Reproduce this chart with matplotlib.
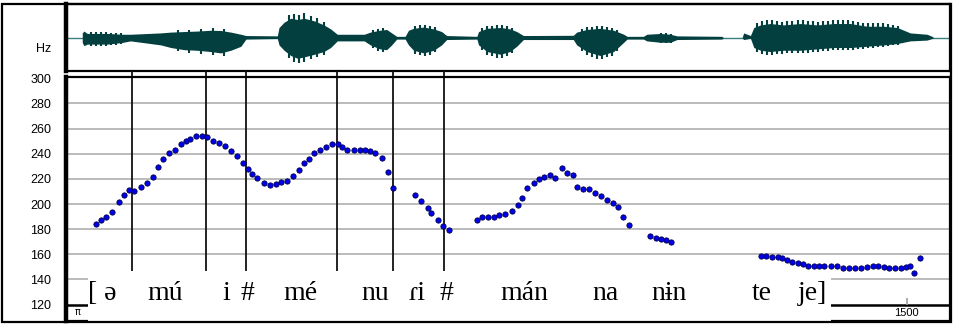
import numpy as np
import matplotlib.pyplot as plt
from matplotlib.patches import Rectangle

# F0 track (ms, Hz)
f0_t = [54, 62, 71, 82, 94, 104, 112, 121, 133, 144, 155, 165, 173, 183, 194, 205, 214, 221, 232, 243,
        251, 263, 273, 283, 294, 305, 315, 324, 332, 340,
        353, 364, 375, 384, 394, 405, 415, 425, 433, 443, 453, 464, 475, 485, 493, 502, 514, 525, 534, 543,
        552, 564, 574, 584,
        622, 634, 646, 652, 663, 673, 684,
        733, 743, 752, 763, 773, 784, 795, 806, 814, 823, 834, 844, 853, 863, 873, 884, 894, 905, 912, 923,
        933, 944, 955, 965, 975, 984, 994, 1004,
        1042, 1052, 1061, 1071, 1080,
        1240, 1249, 1260, 1270, 1278, 1287, 1296, 1305, 1314, 1324, 1334, 1343, 1353, 1364, 1376, 1387,
        1397, 1408, 1418, 1429, 1439, 1449, 1459, 1468, 1479, 1489, 1498, 1506, 1512, 1524]
f0_hz = [184.5, 187.7, 189.8, 193.3, 202.0, 206.8, 211.0, 210.2, 213.2, 216.8, 221.6, 229.3, 235.5, 240.5,
         242.9, 247.4, 249.8, 251.8, 254.0, 254.2, 253.0, 250.2, 248.2, 246.0, 242.0, 237.8, 232.7, 227.5,
         223.5, 220.6,
         216.8, 215.2, 215.6, 217.2, 218.4, 222.2, 226.9, 232.3, 235.5, 240.2, 242.9, 245.0, 247.4, 247.4,
         245.5, 242.9, 242.9, 242.9, 243.1, 241.8, 240.2, 236.7, 225.1, 212.4,
         207.0, 202.3, 196.9, 193.0, 187.2, 182.4, 179.2,
         187.7, 189.8, 189.8, 189.8, 190.9, 192.2, 194.3, 199.1, 204.9, 212.4, 216.6, 219.8, 221.6, 223.0,
         220.8, 228.5, 224.3, 223.2, 213.7, 212.1, 211.6, 208.4, 206.3, 203.1, 201.0, 197.3, 189.8, 183.7,
         174.4, 173.1, 172.0, 171.3, 169.9,
         158.5, 158.5, 158.0, 157.5, 156.7, 155.3, 154.3, 153.2, 152.2, 150.8, 150.8, 150.8, 150.8, 150.8,
         150.6, 149.5, 149.5, 149.5, 149.5, 150.0, 150.8, 150.8, 150.0, 149.5, 149.5, 149.5, 150.0, 151.1,
         145.2, 156.9]

# segment boundaries (ms)
bounds = [118, 250, 321, 484, 584, 675]

# transcription
syll = ["mú", "i", "#", "mé", "nu", "ɾi", "#", "mán", "na", "nɨn", "te", "je]"]
syll_t = [177, 286, 323, 418, 552, 627, 679, 817, 962, 1075, 1242, 1331]

yticks = [120, 140, 160, 180, 200, 220, 240, 260, 280, 300]

# waveform envelope (ms, amplitude above / below baseline)
wave_t = [29, 32, 38, 74, 100, 115, 169, 187, 211, 234, 258, 276, 294, 312, 321, 377, 380, 389, 401, 413,
          425, 443, 460, 472, 484, 532, 543, 560, 572, 581, 590, 605, 611, 620, 638, 656, 670, 679, 733,
          736, 751, 775, 792, 804, 816, 905, 911, 929, 953, 977, 995, 1001, 1030, 1036, 1060, 1078, 1090,
          1170, 1173, 1206, 1209, 1221, 1227, 1239, 1256, 1280, 1310, 1340, 1370, 1399, 1429, 1459, 1483,
          1506, 1536, 1545, 1548]
wave_top = [6, 8.3, 5.3, 5.3, 4.3, 4.3, 6, 7, 7.7, 8.3, 9.3, 9, 7, 4.3, 2.7, 2.3, 12.7, 19.3, 24.3, 22.7,
            24.3, 21, 16, 11, 4.3, 4.3, 7, 9.3, 10.3, 6, 1.7, 1.7, 9.3, 11.7, 13.3, 11, 7.7, 2.7, 1.7,
            7.7, 11.7, 12.7, 11, 7.7, 2.7, 3, 7, 10.3, 11.7, 9.3, 4.3, 1.7, 1.7, 4.3, 5.3, 4.3, 2.3,
            1.7, 0, 0, 6, 2.7, 12.7, 16, 17.7, 16, 17.7, 16, 17.7, 17.7, 14.3, 14.3, 12.7,
            6, 4.3, 1.7, 0]
wave_bot = [6, 10, 8, 8, 6, 4, 9, 12.3, 15, 15.7, 17.3, 19, 15.7, 10.7, 1.7, 1, 9, 15.7, 22.3, 25.7,
            24, 20.7, 17.3, 12.3, 4, 4, 9, 14, 15, 9, 1.7, 1.7, 9, 15.7, 19, 15.7, 9, 2.3, 1.7,
            9, 17.3, 20.7, 17.3, 10.7, 2.3, 2.3, 9, 17.3, 22.3, 17.3, 5.7, 1.7, 1.7, 4, 5.7, 5.7, 2.3,
            1.7, 0, 0, 2.3, 0.7, 12.3, 15.7, 17.3, 15.7, 15.7, 14, 12.3, 12.3, 10.7, 9, 7.3,
            4, 3, 1, 0]
pulses = [44, 53, 62, 71, 80, 89, 98,
          200, 220, 240, 262, 282,
          398, 407, 416, 425, 437, 448, 460,
          548, 557, 566,
          622, 631, 640, 649, 658,
          742, 751, 760, 769, 777, 786, 795,
          920, 929, 938, 947, 956, 965, 974, 983,
          1062, 1071, 1080,
          1233, 1242, 1251, 1260, 1269, 1278, 1287, 1296, 1305, 1314, 1323, 1332, 1341, 1350, 1359,
          1368, 1377, 1386, 1395, 1404, 1413, 1422, 1431, 1440, 1449, 1458, 1467, 1476, 1485]

W, H = 954, 325
T_MAX = 1577
Y0, Y1 = 107, 301
wave_col = '#033f3f'

fig = plt.figure(figsize=(W / 100, H / 100), dpi=100)
ax_w = fig.add_axes([66 / W, 1 - 71 / H, 884 / W, 67 / H])
ax_p = fig.add_axes([66 / W, 1 - 321 / H, 884 / W, 244 / H])

# waveform
ax_w.plot([0, T_MAX], [0, 0], color='#3a7f7f', lw=1, zorder=1)
wt = np.array(wave_t, float)
wtop = np.array(wave_top)
wbot = np.array(wave_bot)
ax_w.fill_between(wt, -0.8 * wbot, 0.8 * wtop, color=wave_col, lw=0, zorder=2)
ax_w.vlines(pulses, -np.interp(pulses, wt, wbot), np.interp(pulses, wt, wtop),
            color=wave_col, lw=1.5, zorder=2)
ax_w.set_xlim(0, T_MAX)
ax_w.set_ylim(-33.3, 33.7)
ax_w.set_xticks([])
ax_w.set_yticks([])

# pitch panel
for v in yticks[1:-1]:
    ax_p.axhline(v, color='#a8a8a8', lw=1.1, zorder=1)
ax_p.axhline(120, color='black', lw=1.8, zorder=1)
ax_p.vlines(bounds, 146.6, 305.7, color='#111111', lw=1.3, zorder=2, clip_on=False)
ax_p.plot(f0_t, f0_hz, 'o', ms=3.8, mfc='#0000ee', mec='#00004a', mew=0.6, zorder=3)

ax_p.add_patch(Rectangle((39.3, Y0), 1364 - 39.3, 146.6 - Y0, fc='white', ec='none', zorder=4))

serif = ['Liberation Serif', 'DejaVu Serif']
ax_p.text(39.5, 123.5, "[ ə", family=serif, fontsize=20, ha='left', va='baseline', zorder=5)
for s, t in zip(syll, syll_t):
    ax_p.text(t, 123.5, s, family=serif, fontsize=20, ha='center', va='baseline', zorder=5)

ax_p.vlines(1500, 120, 125.6, color='#a0a0a0', lw=1.2, zorder=2)
ax_p.text(1500, 113.2, "1500", family='Liberation Sans', fontsize=8, ha='center', va='center')
ax_p.text(20, 113.8, "π", family='DejaVu Sans', fontsize=7, ha='center', va='center')

ax_p.set_xlim(0, T_MAX)
ax_p.set_ylim(Y0, Y1)
ax_p.set_xticks([])
ax_p.set_yticks(yticks)
ax_p.set_yticklabels([str(v) for v in yticks], family='Liberation Sans', fontsize=9)
ax_p.tick_params(axis='y', length=0, pad=10.5)

for ax in (ax_w, ax_p):
    for side in ('top', 'bottom', 'right'):
        ax.spines[side].set_linewidth(1.6)
    ax.spines['left'].set_linewidth(3.2)

# outer frame
fig.patches.append(Rectangle((2 / W, 1 - 322 / H), 949 / W, 318 / H, transform=fig.transFigure,
                             fill=False, ec='black', lw=1.6))
fig.text(51 / W, 1 - 49 / H, "Hz", family='Liberation Sans', fontsize=9, ha='right', va='center')

fig.savefig('out.png', dpi=100)
